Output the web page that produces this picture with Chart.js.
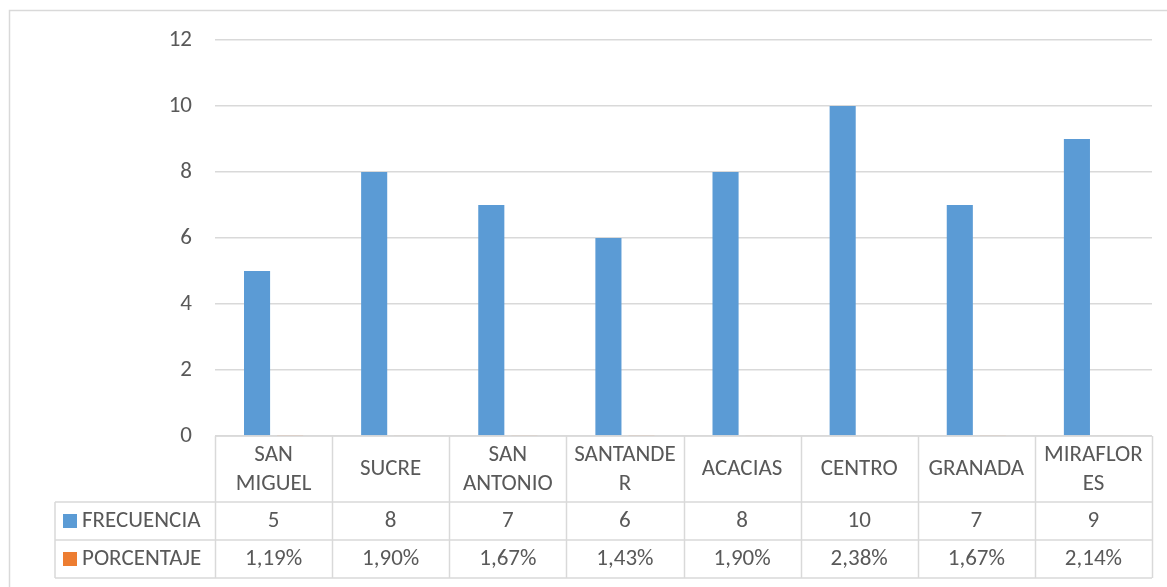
<!DOCTYPE html>
<html>
<head>
<meta charset="utf-8">
<script src="https://cdn.jsdelivr.net/npm/chart.js@4.4.0/dist/chart.umd.min.js"></script>
<style>
  html, body { margin: 0; padding: 0; background: #fff; }
  #wrap { width: 1167px; height: 587px; position: relative; }
</style>
</head>
<body>
<div id="wrap"><canvas id="myChart" width="1167" height="587"></canvas></div>
<script>
'use strict';

let barrios = [['SAN', 'MIGUEL'], 'SUCRE', ['SAN', 'ANTONIO'], ['SANTANDE', 'R'], 'ACACIAS', 'CENTRO', 'GRANADA', ['MIRAFLOR', 'ES']];
let frecuencia = [5, 8, 7, 6, 8, 10, 7, 9];
let porcentaje = [1.19, 1.90, 1.67, 1.43, 1.90, 2.38, 1.67, 2.14];
let porcentajeTxt = ['1,19%', '1,90%', '1,67%', '1,43%', '1,90%', '2,38%', '1,67%', '2,14%'];
let yTicks = [0, 2, 4, 6, 8, 10, 12];

let FONT = 'Carlito, Calibri, Lato, sans-serif';
let TXT = '#595959';
let LINE = '#d9d9d9';
let AZUL = '#5b9bd5';
let NARANJA = '#ed7d31';

// tabla de datos debajo del grafico, como en Excel
let tablaPlugin = {
  id: 'tabla',
  beforeDraw(chart) {
    let ctx = chart.ctx;
    ctx.save();
    ctx.strokeStyle = LINE;
    ctx.lineWidth = 1.5;
    ctx.strokeRect(9.5, 10.5, 1170, 600);
    ctx.restore();
  },
  afterDraw(chart) {
    let ctx = chart.ctx;
    let x = chart.scales.x;
    let area = chart.chartArea;
    let n = barrios.length;
    let cw = (area.right - area.left) / n;
    let top = area.bottom;
    let r1 = top + 66;
    let r2 = r1 + 38;
    let r3 = r2 + 38;
    let legLeft = 55;

    ctx.save();
    ctx.strokeStyle = LINE;
    ctx.lineWidth = 1.5;
    ctx.beginPath();
    // horizontales
    ctx.moveTo(area.left, top); ctx.lineTo(area.right, top);
    ctx.moveTo(legLeft, r1); ctx.lineTo(area.right, r1);
    ctx.moveTo(legLeft, r2); ctx.lineTo(area.right, r2);
    ctx.moveTo(legLeft, r3); ctx.lineTo(area.right, r3);
    // verticales
    ctx.moveTo(legLeft, r1); ctx.lineTo(legLeft, r3);
    for (let i = 0; i <= n; i++) {
      let px = Math.round(area.left + i * cw) + 0.5;
      ctx.moveTo(px, top); ctx.lineTo(px, r3);
    }
    ctx.stroke();

    ctx.fillStyle = TXT;
    ctx.font = '23px ' + FONT;
    ctx.textAlign = 'center';
    ctx.textBaseline = 'middle';
    for (let i = 0; i < n; i++) {
      let cx = x.getPixelForValue(i);
      let lab = barrios[i];
      if (Array.isArray(lab)) {
        ctx.fillText(lab[0], cx, top + 19);
        ctx.fillText(lab[1], cx, top + 48);
      } else {
        ctx.fillText(lab, cx, top + 33);
      }
      ctx.fillText(String(frecuencia[i]), cx, r1 + 19);
      ctx.fillText(porcentajeTxt[i], cx, r2 + 19);
    }

    // leyenda
    ctx.textAlign = 'left';
    ctx.fillStyle = AZUL;
    ctx.fillRect(63, r1 + 12, 14, 14);
    ctx.fillStyle = NARANJA;
    ctx.fillRect(63, r2 + 12, 14, 14);
    ctx.fillStyle = TXT;
    ctx.fillText('FRECUENCIA', 82, r1 + 19);
    ctx.fillText('PORCENTAJE', 82, r2 + 19);
    ctx.restore();
  }
};

let ctx = document.getElementById('myChart').getContext('2d');
let myChart = new Chart(ctx, {
  type: 'bar',
  data: {
    labels: barrios,
    datasets: [{
      label: 'FRECUENCIA',
      data: frecuencia,
      backgroundColor: AZUL,
      barPercentage: 0.79,
      categoryPercentage: 0.564
    }, {
      label: 'PORCENTAJE',
      data: porcentaje.map(v => v / 100),
      backgroundColor: NARANJA,
      barPercentage: 0.79,
      categoryPercentage: 0.564
    }]
  },
  options: {
    responsive: false,
    animation: false,
    layout: { padding: { left: 0, right: 15, top: 40, bottom: 151 } },
    plugins: {
      legend: { display: false },
      tooltip: { enabled: false }
    },
    scales: {
      x: {
        display: false
      },
      y: {
        min: 0,
        max: 12,
        afterFit(scale) { scale.width = 215; },
        afterBuildTicks(scale) { scale.ticks = yTicks.map(v => ({ value: v })); },
        border: { display: false },
        grid: { color: LINE, lineWidth: 1.5, drawTicks: false },
        ticks: {
          color: TXT,
          padding: 23,
          font: { family: FONT, size: 23 }
        }
      }
    }
  },
  plugins: [tablaPlugin]
});
</script>
</body>
</html>
